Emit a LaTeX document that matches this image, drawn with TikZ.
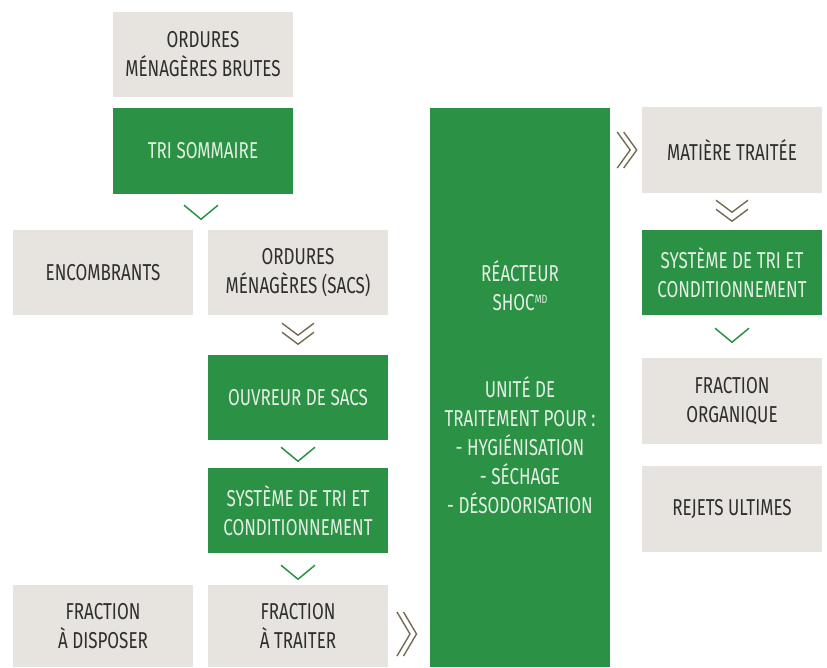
\documentclass[tikz,border=0pt]{standalone}
\usepackage{fontspec}
\setmainfont{Fira Sans}[FakeStretch=0.74]
\usetikzlibrary{calc}
\definecolor{boxbeige}{HTML}{E7E3DE}
\definecolor{boxgreen}{HTML}{2A9145}
\definecolor{chevbrown}{HTML}{756B55}
\definecolor{darktext}{HTML}{2E2E2E}
\definecolor{lighttext}{HTML}{E4EFE4}
\tikzset{
  base/.style={minimum width=180pt, minimum height=85pt, inner sep=0pt, align=center,
    font=\fontsize{23}{29}\selectfont},
  beigebox/.style={base, fill=boxbeige, text=darktext},
  greenbox/.style={base, fill=boxgreen, text=lighttext},
  gline/.style={draw=boxgreen, line width=1.5pt},
  bline/.style={draw=chevbrown, line width=1.4pt},
  pics/chevg/.style={code={\draw[gline] (-17,0)--(0,14)--(17,0);}},
  pics/chevbd/.style={code={
    \draw[bline] (-16,0)--(0,12)--(16,0);
    \draw[bline] (-16,9)--(0,21)--(16,9);}},
  pics/chevbr/.style={code={
    \draw[bline] (0,-#1)--(13,0)--(0,#1);
    \draw[bline] (6.5,-#1)--(19.5,0)--(6.5,#1);}},
}
\begin{document}
\begin{tikzpicture}[x=1pt,y=-1pt]
\useasboundingbox (0,0) rectangle (827,667);
\node[beigebox] (A) at (203,54.5) {ORDURES\\MÉNAGÈRES BRUTES};
\node[greenbox, minimum height=86pt] (B) at (203,151) {TRI SOMMAIRE};
\node[beigebox] (C) at (103,272.5) {ENCOMBRANTS};
\node[beigebox] (D) at (298,272.5) {ORDURES\\MÉNAGÈRES (SACS)};
\node[greenbox] (E) at (298,397.5) {OUVREUR DE SACS};
\node[greenbox] (F) at (298,510.5) {SYSTÈME DE TRI ET\\CONDITIONNEMENT};
\node[beigebox, minimum height=82pt] (G) at (103,626) {FRACTION\\À DISPOSER};
\node[beigebox, minimum height=82pt] (H) at (298,626) {FRACTION\\À TRAITER};
\node[greenbox, minimum height=559pt] (R) at (520,387.5)
  {RÉACTEUR\\SHOC{\fontsize{12}{12}\selectfont\raisebox{7pt}{MD}}\\[58pt]UNITÉ DE\\TRAITEMENT POUR :\\- HYGIÉNISATION\\- SÉCHAGE\\- DÉSODORISATION};
\node[beigebox, minimum height=86pt] (M) at (732,150) {MATIÈRE TRAITÉE};
\node[greenbox] (S) at (732,272.5) {SYSTÈME DE TRI ET\\CONDITIONNEMENT};
\node[beigebox, minimum height=86pt] (O) at (732,401) {FRACTION\\ORGANIQUE};
\node[beigebox, minimum height=86pt] (U) at (732,509) {REJETS ULTIMES};
% chevrons
\path ($(B.south)+(-2,11)$) pic{chevg};
\path ($(D.south)+(0,8)$) pic{chevbd};
\path ($(E.south)+(0,7)$) pic{chevg};
\path ($(F.south)+(0,12)$) pic{chevg};
\path ($(H.east)!0.5!(R.west |- H.east)+(-12,8)$) pic{chevbr=22};
\path ($(R.east |- M.west)+(7,0)$) pic{chevbr=18};
\path ($(M.south)+(0,7)$) pic{chevbd};
\path ($(S.south)+(0,13)$) pic{chevg};
\end{tikzpicture}
\end{document}
